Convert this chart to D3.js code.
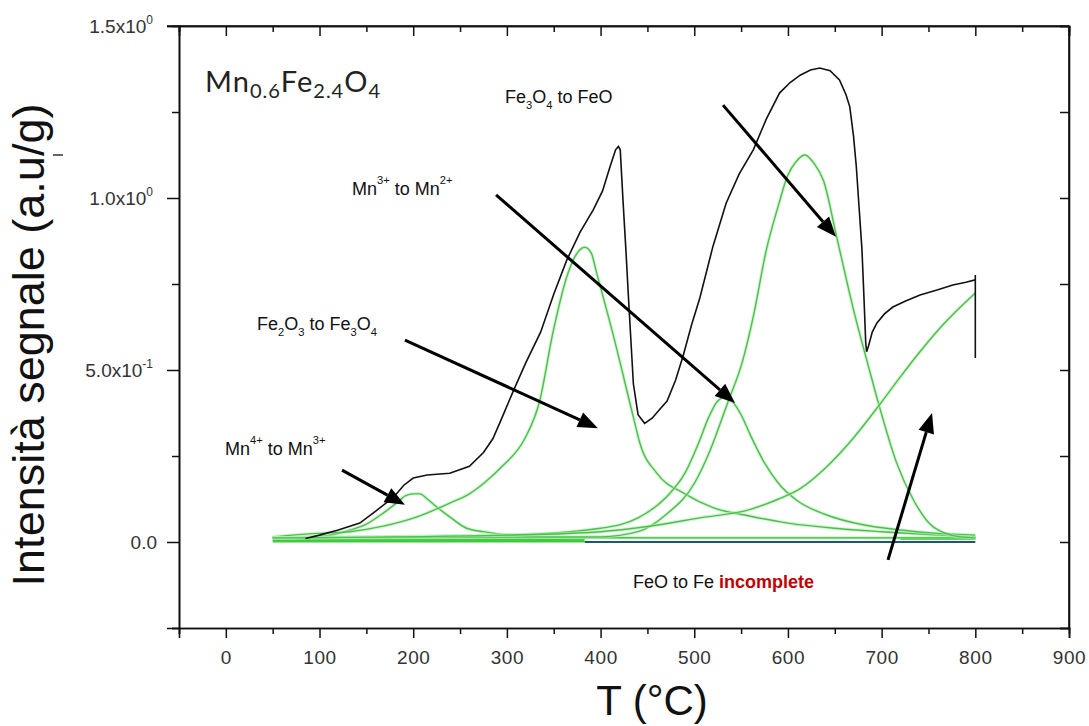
<!DOCTYPE html>
<html><head><meta charset="utf-8">
<script src="https://cdn.jsdelivr.net/npm/d3@7"></script>
<style>body{margin:0;background:#fff}svg{display:block}</style>
</head><body><svg id="c" width="1089" height="726"></svg>
<script>
// ---------- data (T in °C, intensity in a.u/g) ----------
const totalT = [85,100,120,143,160,179,190,200,215,239,260,275,285,293,307,320,336,350,364,378,392,402,410,416,419,421,424,427,430,435,440,447,455,463,471,480,488,497,506,520,534,548,563,577,591,602,613,624,634,645,655,662,666,670,673,676,679,681,683,684,686,690,695,703,712,725,741,760,776,790,800,800,800];
const totalI = [0.01,0.02,0.035,0.055,0.09,0.13,0.165,0.186,0.195,0.2,0.22,0.26,0.3,0.35,0.44,0.52,0.61,0.72,0.82,0.9,0.965,1.02,1.09,1.14,1.15,1.14,0.99,0.85,0.70,0.46,0.37,0.345,0.36,0.385,0.41,0.47,0.54,0.63,0.71,0.86,0.985,1.07,1.14,1.23,1.305,1.335,1.357,1.372,1.378,1.37,1.343,1.30,1.265,1.18,1.09,0.97,0.85,0.72,0.58,0.553,0.57,0.61,0.637,0.663,0.683,0.70,0.718,0.733,0.747,0.755,0.762,0.776,0.535];

const peak1T = [50,100,133,150,168,182,192,200,207,215,225,239,257,275,303,330,380,500,650,800];
const peak1I = [0.012,0.016,0.035,0.052,0.084,0.113,0.135,0.14,0.14,0.125,0.102,0.073,0.04,0.03,0.02,0.016,0.013,0.012,0.012,0.012];

const peak2T = [50,97,132,168,204,239,260,275,295,319,335,349,365,375,383,390,396,413,435,442,460,490,520,560,600,650,700,750,800];
const peak2I = [0.015,0.025,0.03,0.046,0.073,0.113,0.14,0.17,0.22,0.3,0.41,0.607,0.78,0.84,0.857,0.84,0.78,0.607,0.363,0.287,0.2,0.14,0.1,0.075,0.055,0.04,0.03,0.022,0.015];

const peak3T = [50,300,400,440,470,490,505,515,525,532,540,550,560,575,590,610,640,680,720,760,800];
const peak3I = [0.012,0.02,0.04,0.07,0.13,0.2,0.29,0.36,0.41,0.42,0.41,0.37,0.31,0.23,0.17,0.12,0.08,0.05,0.035,0.025,0.02];

const peak4T = [50,400,440,470,500,517,535,552,563,577,590,599,610,618,628,638,652,670,686,698,716,734,755,784,800];
const peak4I = [0.012,0.015,0.03,0.08,0.17,0.267,0.4,0.53,0.655,0.85,0.98,1.06,1.11,1.125,1.1,1.05,0.887,0.675,0.51,0.39,0.23,0.122,0.044,0.015,0.012];

const peak5T = [50,300,400,450,506,560,590,613,640,666,698,720,740,760,780,800];
const peak5I = [0.012,0.02,0.03,0.045,0.07,0.095,0.125,0.155,0.215,0.29,0.40,0.48,0.55,0.615,0.672,0.724];

const xMajor = [0,100,200,300,400,500,600,700,800,900];
const xMinor = [-50,50,150,250,350,450,550,650,750,850];
const yMajor = [0,0.5,1.0,1.5];
const yMajorMant = ["0.0","5.0x10","1.0x10","1.5x10"];
const yMajorExp = ["","-1","0","0"];
const yMinor = [-0.25,0.25,0.75,1.25];

// ---------- layout ----------
const svg = d3.select("#c");
const x = d3.scaleLinear().domain([-50,900]).range([179,1069]);
const y = d3.scaleLinear().domain([-0.25,1.5]).range([628,26]);
const font = "'Liberation Sans', Arial, sans-serif";

// baselines
const base = svg.append("g");
base.append("line").attr("x1",x(50)).attr("x2",x(800)).attr("y1",y(0.012)).attr("y2",y(0.012))
  .attr("stroke","#5cc85c").attr("stroke-width",1.3);
base.append("line").attr("x1",x(383)).attr("x2",x(800)).attr("y1",y(0)).attr("y2",y(0))
  .attr("stroke","#1d5a66").attr("stroke-width",2);
base.append("line").attr("x1",x(50)).attr("x2",x(383)).attr("y1",y(0.004)).attr("y2",y(0.004))
  .attr("stroke","#3ccc3c").attr("stroke-width",4);
base.append("line").attr("x1",x(720)).attr("x2",x(800)).attr("y1",y(0.01)).attr("y2",y(0.01))
  .attr("stroke","#3ccc3c").attr("stroke-width",3);

const line = d3.line().x(d=>x(d[0])).y(d=>y(d[1]));
const peaks = [[peak1T,peak1I],[peak2T,peak2I],[peak3T,peak3I],[peak4T,peak4I],[peak5T,peak5I]];
peaks.forEach(([T,I])=>{
  const pts = T.map((t,i)=>[t,I[i]]);
  svg.append("path").datum(pts).attr("d",line.curve(d3.curveMonotoneX))
    .attr("fill","none").attr("stroke","#b8ecb8").attr("stroke-width",3.5).attr("opacity",0.6);
  svg.append("path").datum(pts).attr("d",line.curve(d3.curveMonotoneX))
    .attr("fill","none").attr("stroke","#4cbf4c").attr("stroke-width",1.4);
});
const totPts = totalT.map((t,i)=>[t,totalI[i]]);
svg.append("path").datum(totPts).attr("d",d3.line().x(d=>x(d[0])).y(d=>y(d[1])).curve(d3.curveLinear))
  .attr("fill","none").attr("stroke","#111").attr("stroke-width",1.6);

// ---------- axes ----------
const gB = svg.append("g").attr("transform",`translate(0,${y(-0.25)})`)
  .call(d3.axisBottom(x).tickValues(xMajor).tickSize(10).tickFormat(d3.format("d")));
svg.append("g").attr("transform",`translate(0,${y(-0.25)})`)
  .call(d3.axisBottom(x).tickValues(xMinor).tickSize(6).tickFormat(""));
svg.append("g").attr("transform",`translate(0,${y(1.5)})`)
  .call(d3.axisBottom(x).tickValues(xMajor).tickSize(10).tickFormat(""));
svg.append("g").attr("transform",`translate(0,${y(1.5)})`)
  .call(d3.axisBottom(x).tickValues(xMinor).tickSize(6).tickFormat(""));
svg.append("g").attr("transform",`translate(${x(-50)},0)`)
  .call(d3.axisLeft(y).tickValues(yMajor).tickSize(12).tickFormat(""));
svg.append("g").attr("transform",`translate(${x(-50)},0)`)
  .call(d3.axisLeft(y).tickValues(yMinor).tickSize(7).tickFormat(""));
svg.append("g").attr("transform",`translate(${x(900)},0)`)
  .call(d3.axisLeft(y).tickValues(yMajor.concat(yMinor)).tickSize(9).tickFormat(""));

svg.selectAll(".domain").attr("stroke","#111").attr("stroke-width",1.6);
svg.selectAll(".tick line").attr("stroke","#111").attr("stroke-width",1.5);
gB.selectAll(".tick text").attr("font-family",font).attr("font-size",19).attr("fill","#333")
  .attr("letter-spacing","0.6px").attr("y",36).attr("dy",0);
svg.append("line").attr("x1",x(900)).attr("x2",x(900)).attr("y1",y(1.5)).attr("y2",y(-0.25)).attr("stroke","#111").attr("stroke-width",1.6);
svg.append("line").attr("x1",x(-50)-12).attr("x2",x(900)).attr("y1",y(1.5)).attr("y2",y(1.5)).attr("stroke","#111").attr("stroke-width",1.6);

// y labels
yMajor.forEach((v,i)=>{
  const t = svg.append("text").attr("x",yMajorExp[i]?153:157).attr("y",y(v)+7)
    .attr("text-anchor","end").attr("font-family",font).attr("font-size",19).attr("fill","#333");
  t.append("tspan").text(yMajorMant[i]);
  if(yMajorExp[i]) t.append("tspan").attr("font-size",12).attr("dy",-9).text(yMajorExp[i]);
});

// axis titles
svg.append("text").attr("x",652).attr("y",715).attr("text-anchor","middle")
  .attr("font-family",font).attr("font-size",42).attr("fill","#111").text("T (°C)");
svg.append("text").attr("transform","translate(44,345) rotate(-90)").attr("text-anchor","middle")
  .attr("font-family",font).attr("font-size",45).attr("fill","#111").text("Intensità segnale (a.u/g)");
svg.append("line").attr("x1",53).attr("x2",63).attr("y1",155).attr("y2",155).attr("stroke","#111").attr("stroke-width",1.3);

// ---------- annotations ----------
function rich(xp, yp, parts, size){
  const t = svg.append("text").attr("x",xp).attr("y",yp).attr("font-family",font)
    .attr("font-size",size).attr("fill","#111");
  parts.forEach(p=>{
    const s = t.append("tspan").text(p.t);
    if(p.sub){ s.attr("font-size",size*0.62).attr("dy",6); }
    else if(p.sup){ s.attr("font-size",size*0.62).attr("dy",-11); }
    if(p.back) s.attr("dy",p.back);
    if(p.fill) s.attr("fill",p.fill);
    if(p.bold) s.attr("font-weight","bold");
  });
  return t;
}
// title
const tt = svg.append("text").attr("x",205).attr("y",92).attr("font-family","Lato, 'Open Sans', sans-serif")
  .attr("font-size",29).attr("letter-spacing","1px").attr("fill","#222");
[["Mn",0],["0.6",1],["Fe",-1],["2.4",1],["O",-1],["4",1]].forEach(([s,k])=>{
  const ts = tt.append("tspan").text(s);
  if(k===1) ts.attr("font-size",20).attr("dy",6);
  if(k===-1) ts.attr("dy",-6);
});

rich(505,103,[{t:"Fe"},{t:"3",sub:1},{t:"O",back:-6},{t:"4",sub:1},{t:" to FeO",back:-6}],18);
rich(352,195,[{t:"Mn"},{t:"3+",sup:1},{t:" to Mn",back:11},{t:"2+",sup:1}],18);
rich(257,330,[{t:"Fe"},{t:"2",sub:1},{t:"O",back:-6},{t:"3",sub:1},{t:" to Fe",back:-6},{t:"3",sub:1},{t:"O",back:-6},{t:"4",sub:1}],18);
rich(225,455,[{t:"Mn"},{t:"4+",sup:1},{t:" to Mn",back:11},{t:"3+",sup:1}],18);
rich(633,588,[{t:"FeO to Fe "},{t:"incomplete",fill:"#c00000",bold:1}],18);

// arrows (in data coordinates)
const arrows = [
  [[124,0.209],[191.2,0.108]],
  [[191.2,0.587],[397.2,0.331]],
  [[288.4,1.009],[543.5,0.404]],
  [[530.7,1.27],[651.3,0.887]],
  [[706.8,-0.052],[753.8,0.375]]
];
arrows.forEach(([a,b])=>{
  const x1=x(a[0]),y1=y(a[1]),x2=x(b[0]),y2=y(b[1]);
  const ang=Math.atan2(y2-y1,x2-x1), L=20, W=8;
  const bx=x2-L*Math.cos(ang), by=y2-L*Math.sin(ang);
  svg.append("line").attr("x1",x1).attr("y1",y1).attr("x2",bx).attr("y2",by)
    .attr("stroke","#000").attr("stroke-width",3);
  const px=-Math.sin(ang), py=Math.cos(ang);
  svg.append("path").attr("d",`M${x2},${y2}L${bx+W*px},${by+W*py}L${bx-W*px},${by-W*py}Z`).attr("fill","#000");
});
</script></body></html>
